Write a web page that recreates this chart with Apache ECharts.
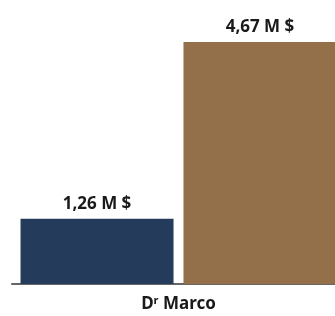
<!DOCTYPE html>
<html>
<head>
<meta charset="utf-8">
<script src="https://cdn.jsdelivr.net/npm/echarts@6/dist/echarts.min.js"></script>
<style>
  html, body { margin: 0; padding: 0; background: #fff; }
  #chart { width: 335px; height: 316px; }
</style>
</head>
<body>
<div id="chart"></div>
<script>
var categories = ['Dʳ Marco'];
var seriesNames = ['A', 'B'];
var valuesA = [1.26];
var valuesB = [4.67];
var colors = ['#253b5b', '#94704a'];

function fmt(v) {
  return v.toFixed(2).replace('.', ',') + ' M $';
}

var labelStyle = {
  show: true,
  position: 'top',
  distance: 6,
  fontFamily: 'Noto Sans',
  fontWeight: 700,
  fontSize: 17,
  color: '#1a1a1a',
  formatter: function (p) { return fmt(p.value); }
};

var myChart = echarts.init(document.getElementById('chart'));
myChart.setOption({
  animation: false,
  grid: { left: 12, right: -10, top: 42, bottom: 32, containLabel: false, outerBoundsMode: 'none' },
  xAxis: {
    type: 'category',
    data: categories,
    axisLine: { show: true, lineStyle: { color: '#666', width: 2 } },
    axisTick: { show: false },
    axisLabel: {
      margin: 12,
      fontFamily: 'Noto Sans',
      fontWeight: 700,
      fontSize: 17,
      color: '#1a1a1a'
    }
  },
  yAxis: {
    type: 'value',
    min: 0,
    max: 4.67,
    show: false,
    splitLine: { show: false }
  },
  series: [
    {
      name: seriesNames[0],
      type: 'bar',
      data: valuesA,
      barWidth: 153,
      barGap: '6.5%',
      itemStyle: { color: colors[0] },
      label: labelStyle
    },
    {
      name: seriesNames[1],
      type: 'bar',
      data: valuesB,
      barWidth: 153,
      barGap: '6.5%',
      itemStyle: { color: colors[1] },
      label: labelStyle
    }
  ]
});
</script>
</body>
</html>
